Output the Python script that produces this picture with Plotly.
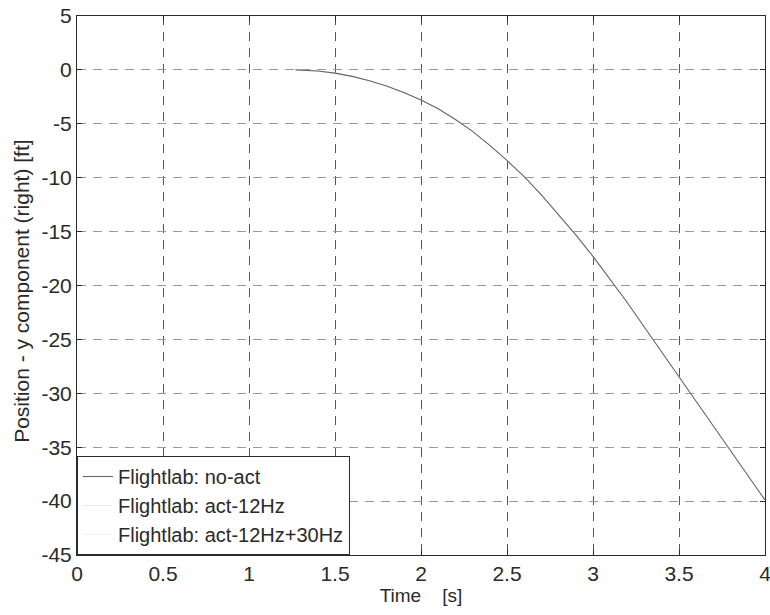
import plotly.graph_objects as go

time_s = [1.27, 1.4, 1.5, 1.6, 1.7, 1.8, 1.9, 2.0, 2.1, 2.2, 2.3, 2.4, 2.5, 2.6,
          2.7, 2.8, 2.9, 3.0, 3.1, 3.2, 3.3, 3.4, 3.5, 3.6, 3.7, 3.8, 3.9, 4.0]
pos_no_act = [0.0, -0.1, -0.3, -0.6, -1.0, -1.5, -2.1, -2.8, -3.6, -4.6, -5.7, -7.0,
              -8.4, -9.9, -11.6, -13.4, -15.3, -17.3, -19.4, -21.6, -23.9, -26.2,
              -28.5, -30.8, -33.1, -35.3, -37.6, -39.9]
pos_act12 = [0.0, -0.1, -0.3, -0.6, -1.0, -1.5, -2.1, -2.8, -3.6, -4.6, -5.7, -7.0,
             -8.4, -9.9, -11.6, -13.4, -15.3, -17.3, -19.4, -21.6, -23.9, -26.2,
             -28.5, -30.8, -33.1, -35.3, -37.6, -39.9]
pos_act12_30 = [0.0, -0.1, -0.3, -0.6, -1.0, -1.5, -2.1, -2.8, -3.6, -4.6, -5.7, -7.0,
                -8.4, -9.9, -11.6, -13.4, -15.3, -17.3, -19.4, -21.6, -23.9, -26.2,
                -28.5, -30.8, -33.1, -35.3, -37.6, -39.9]

x_ticks = [0, 0.5, 1, 1.5, 2, 2.5, 3, 3.5, 4]
x_tick_labels = ["0", "0.5", "1", "1.5", "2", "2.5", "3", "3.5", "4"]
y_ticks = [5, 0, -5, -10, -15, -20, -25, -30, -35, -40, -45]
y_tick_labels = ["5", "0", "-5", "-10", "-15", "-20", "-25", "-30", "-35", "-40", "-45"]

font = "Liberation Sans, Arial, sans-serif"
ink = "#2a2a2a"

fig = go.Figure()
fig.add_trace(go.Scatter(x=time_s, y=pos_act12_30, mode="lines",
                         name="Flightlab: act-12Hz+30Hz",
                         line=dict(color="#f2f2f2", width=1)))
fig.add_trace(go.Scatter(x=time_s, y=pos_act12, mode="lines",
                         name="Flightlab: act-12Hz",
                         line=dict(color="#ebebeb", width=1)))
fig.add_trace(go.Scatter(x=time_s, y=pos_no_act, mode="lines",
                         name="Flightlab: no-act",
                         line=dict(color="#666666", width=1.1)))

axis_common = dict(
    showline=True, linecolor=ink, linewidth=1, mirror="ticks",
    ticks="inside", ticklen=5, tickcolor=ink,
    showgrid=True, griddash="9px,7px", gridwidth=1,
    zeroline=False, ticklabeloverflow="allow", automargin=False,
    tickfont=dict(family=font, size=21, color=ink),
)

fig.update_layout(
    width=770, height=615,
    margin=dict(l=77, r=5, t=16, b=60, autoexpand=False),
    paper_bgcolor="white", plot_bgcolor="white",
    showlegend=True,
    legend=dict(x=0, y=0, xanchor="left", yanchor="bottom",
                bgcolor="white", bordercolor=ink, borderwidth=1,
                traceorder="reversed",
                font=dict(family=font, size=20, color=ink),
                itemwidth=30, tracegroupgap=0),
    xaxis=dict(range=[0, 4], tickvals=x_ticks, ticktext=x_tick_labels,
               gridcolor="#555555",
               title=dict(text="Time    [s]", font=dict(family=font, size=19, color=ink),
                          standoff=2),
               **axis_common),
    yaxis=dict(range=[-45, 5], tickvals=y_ticks, ticktext=y_tick_labels,
               gridcolor="#9a9a9a",
               **axis_common),
    annotations=[dict(text="Position - y component (right) [ft]", textangle=-90,
                      xref="paper", yref="paper", x=-0.080, y=0.49,
                      xanchor="center", yanchor="middle", showarrow=False,
                      font=dict(family=font, size=21, color=ink))],
)

fig.write_html("out.html")
